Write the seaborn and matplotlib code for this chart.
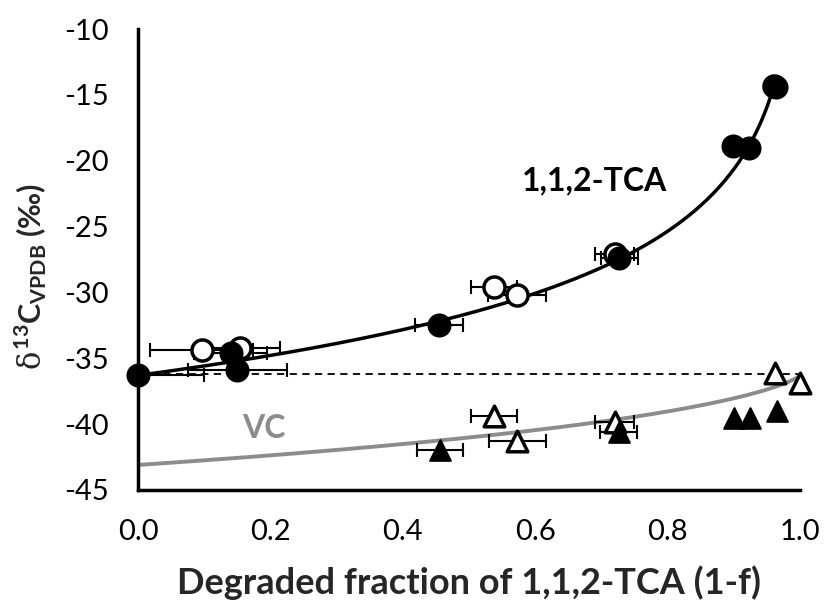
import numpy as np
import pandas as pd
import matplotlib
matplotlib.use("Agg")
import matplotlib.pyplot as plt
import seaborn as sns

# ---- data ----
tca_filled_x = [0.0, 0.14, 0.15, 0.455, 0.727, 0.899, 0.923, 0.963]
tca_filled_y = [-36.3, -34.6, -35.9, -32.5, -27.4, -18.9, -19.0, -14.4]
tca_filled_xerr = [0.10, 0.055, 0.075, 0.036, 0.028, 0.0, 0.0, 0.0]

tca_open_x = [0.096, 0.154, 0.538, 0.573, 0.72, 0.961]
tca_open_y = [-34.4, -34.2, -29.6, -30.2, -27.1, -14.3]
tca_open_xerr = [0.078, 0.06, 0.035, 0.044, 0.03, 0.0]

vc_filled_x = [0.456, 0.726, 0.901, 0.924, 0.966]
vc_filled_y = [-42.0, -40.6, -39.5, -39.5, -39.0]
vc_filled_xerr = [0.035, 0.028, 0.0, 0.0, 0.0]

vc_open_x = [0.538, 0.573, 0.72, 0.962, 1.0]
vc_open_y = [-39.4, -41.3, -39.8, -36.1, -36.9]
vc_open_xerr = [0.035, 0.043, 0.03, 0.0, 0.0]

# Rayleigh model parameters
delta0 = -36.3
epsilon = -6.8
initial_line_y = -36.2

x_ticks = [0.0, 0.2, 0.4, 0.6, 0.8, 1.0]
y_ticks = [-45, -40, -35, -30, -25, -20, -15, -10]

sns.set_style("white")
plt.rcParams['font.family'] = ['Lato', 'DejaVu Sans']
plt.rcParams['mathtext.fontset'] = 'custom'
plt.rcParams['mathtext.rm'] = 'Lato'
plt.rcParams['mathtext.bf'] = 'Lato:bold'
plt.rcParams['mathtext.it'] = 'DejaVu Serif'

fig = plt.figure(figsize=(8.29, 6.01), dpi=100)
ax = fig.add_axes([138/829, 1 - 490/601, (800-138)/829, (490-29)/601])

# model curves
F_tca = np.linspace(0.0, 0.962, 300)
f = 1 - F_tca
tca_curve = pd.DataFrame({"x": F_tca, "y": delta0 + epsilon * np.log(f)})
F_vc = np.linspace(0.0005, 0.999, 300)
fv = 1 - F_vc
vc_curve = pd.DataFrame({"x": F_vc, "y": delta0 - epsilon * fv * np.log(fv) / (1 - fv)})

sns.lineplot(data=tca_curve, x="x", y="y", ax=ax, color="black", lw=2.5, zorder=2)
sns.lineplot(data=vc_curve, x="x", y="y", ax=ax, color="#8c8c8c", lw=2.8, zorder=2)
ax.plot([0, 1.0], [initial_line_y, initial_line_y], ls=(0, (4, 3)), color="black", lw=1.3, zorder=1)

ekw = dict(fmt="none", ecolor="black", elinewidth=1.5, capsize=5, capthick=1.5, zorder=3)
ax.errorbar(tca_open_x, tca_open_y, xerr=tca_open_xerr, **ekw)
ax.errorbar(tca_filled_x, tca_filled_y, xerr=tca_filled_xerr, **ekw)
ax.errorbar(vc_open_x, vc_open_y, xerr=vc_open_xerr, **ekw)
ax.errorbar(vc_filled_x, vc_filled_y, xerr=vc_filled_xerr, **ekw)

def pts(xs, ys):
    return pd.DataFrame({"x": xs, "y": ys})

sns.scatterplot(data=pts(vc_open_x, vc_open_y), x="x", y="y", ax=ax, marker="^", s=220,
                facecolor="white", edgecolor="black", linewidth=2.5, zorder=4, clip_on=False)
sns.scatterplot(data=pts(vc_filled_x, vc_filled_y), x="x", y="y", ax=ax, marker="^", s=220,
                facecolor="black", edgecolor="black", linewidth=1.5, zorder=5, clip_on=False)
sns.scatterplot(data=pts(tca_open_x, tca_open_y), x="x", y="y", ax=ax, marker="o", s=230,
                facecolor="white", edgecolor="black", linewidth=2.5, zorder=4, clip_on=False)
sns.scatterplot(data=pts(tca_filled_x, tca_filled_y), x="x", y="y", ax=ax, marker="o", s=250,
                facecolor="black", edgecolor="black", linewidth=1.5, zorder=5, clip_on=False)

ax.text(0.69, -21.5, "1,1,2-TCA", fontsize=23, fontweight="bold", color="black",
        ha="center", va="center")
ax.text(0.19, -40.3, "VC", fontsize=23, fontweight="bold", color="#8c8c8c",
        ha="center", va="center")

ax.set_xlim(0, 1.0)
ax.set_ylim(-45, -10)
ax.set_xticks(x_ticks)
ax.set_xticklabels([f"{v:.1f}" for v in x_ticks])
ax.set_yticks(y_ticks)
ax.set_yticklabels([f"{v}" for v in y_ticks])
ax.tick_params(axis="both", direction="out", length=7, width=2.2, labelsize=21, colors="black")
ax.tick_params(axis="y", pad=14)
ax.tick_params(axis="x", pad=14)
for s in ["top", "right"]:
    ax.spines[s].set_visible(False)
for s in ["left", "bottom"]:
    ax.spines[s].set_linewidth(2.5)
    ax.spines[s].set_color("black")

ax.set_xlabel("Degraded fraction of 1,1,2-TCA (1-f)", fontsize=26, fontweight="bold")
ax.xaxis.set_label_coords(0.5, (490 - 565) / 461)
ax.set_ylabel(r"$\delta^{\mathbf{13}}\mathbf{C}_{\mathbf{VPDB}}$ (‰)", fontsize=22, fontweight="bold")
ax.yaxis.set_label_coords((49 - 138) / 662, (490 - 276) / 461)

fig.savefig("out.png", dpi=100)
